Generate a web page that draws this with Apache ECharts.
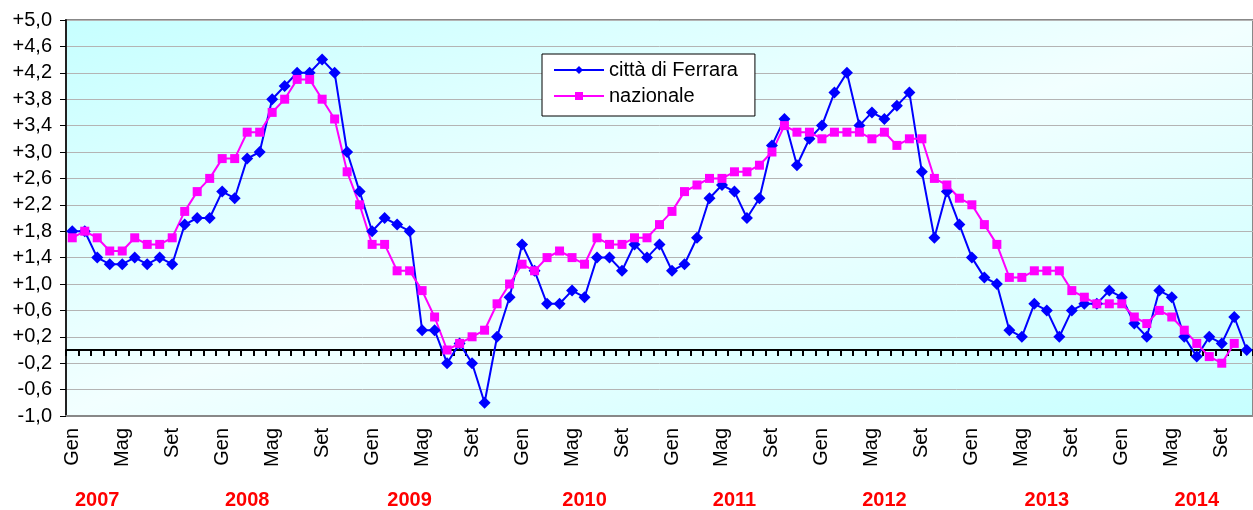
<!DOCTYPE html>
<html><head><meta charset="utf-8">
<script src="https://cdn.jsdelivr.net/npm/echarts@6/dist/echarts.min.js"></script>
<style>html,body{margin:0;padding:0;background:#fff}#c{width:1253px;height:510px}</style>
</head><body><div id="c"></div>
<script>
const monthNames = ['Gen','Feb','Mar','Apr','Mag','Giu','Lug','Ago','Set','Ott','Nov','Dic'];
const years = ['2007','2008','2009','2010','2011','2012','2013','2014'];
const monthCount = 95;
const categories = years.flatMap(y => monthNames.map(m => m + ' ' + y)).slice(0, monthCount);

const ferrara = [
  1.8,1.8,1.4,1.3,1.3,1.4,1.3,1.4,1.3,1.9,2.0,2.0,
  2.4,2.3,2.9,3.0,3.8,4.0,4.2,4.2,4.4,4.2,3.0,2.4,
  1.8,2.0,1.9,1.8,0.3,0.3,-0.2,0.1,-0.2,-0.8,0.2,0.8,
  1.6,1.2,0.7,0.7,0.9,0.8,1.4,1.4,1.2,1.6,1.4,1.6,
  1.2,1.3,1.7,2.3,2.5,2.4,2.0,2.3,3.1,3.5,2.8,3.2,
  3.4,3.9,4.2,3.4,3.6,3.5,3.7,3.9,2.7,1.7,2.4,1.9,
  1.4,1.1,1.0,0.3,0.2,0.7,0.6,0.2,0.6,0.7,0.7,0.9,
  0.8,0.4,0.2,0.9,0.8,0.2,-0.1,0.2,0.1,0.5,0.0
];
const nazionale = [
  1.7,1.8,1.7,1.5,1.5,1.7,1.6,1.6,1.7,2.1,2.4,2.6,
  2.9,2.9,3.3,3.3,3.6,3.8,4.1,4.1,3.8,3.5,2.7,2.2,
  1.6,1.6,1.2,1.2,0.9,0.5,0.0,0.1,0.2,0.3,0.7,1.0,
  1.3,1.2,1.4,1.5,1.4,1.3,1.7,1.6,1.6,1.7,1.7,1.9,
  2.1,2.4,2.5,2.6,2.6,2.7,2.7,2.8,3.0,3.4,3.3,3.3,
  3.2,3.3,3.3,3.3,3.2,3.3,3.1,3.2,3.2,2.6,2.5,2.3,
  2.2,1.9,1.6,1.1,1.1,1.2,1.2,1.2,0.9,0.8,0.7,0.7,
  0.7,0.5,0.4,0.6,0.5,0.3,0.1,-0.1,-0.2,0.1
];
// month (category index) under which each year label is written
const yearLabelIndex = [2, 14, 27, 41, 53, 65, 78, 90];

const font = '"Liberation Sans", Arial, sans-serif';
const fmtY = v => {
  const r = Math.round(v * 10) / 10;
  const s = Math.abs(r).toFixed(1).replace('.', ',');
  return r > 0 ? '+' + s : (r < 0 ? '-' + s : s);
};

const chart = echarts.init(document.getElementById('c'), null, {renderer: 'canvas'});
chart.setOption({
  animation: false,
  grid: {
    left: 66, top: 20, width: 1194, height: 396,
    show: true, borderColor: '#888', borderWidth: 2,
    backgroundColor: new echarts.graphic.LinearGradient(0.401, -0.401, 0.599, 1.401, [
      {offset: 0, color: '#c6ffff'},
      {offset: 0.5, color: '#f2ffff'},
      {offset: 1, color: '#c6ffff'}
    ])
  },
  legend: {
    orient: 'vertical', left: 542, top: 54,
    padding: [6, 17, 10, 11], itemGap: 6, itemWidth: 50, itemHeight: 10,
    backgroundColor: '#fff', borderColor: '#000', borderWidth: 1, borderRadius: 0,
    textStyle: {fontSize: 20, color: '#000', fontFamily: font}
  },
  xAxis: [
    {
      type: 'category', data: categories, position: 'bottom',
      axisLine: {onZero: false, lineStyle: {color: '#888', width: 2}},
      axisTick: {show: false},
      axisLabel: {interval: 3, rotate: 90, margin: 12, fontSize: 20, color: '#000', fontFamily: font,
        formatter: v => v.split(' ')[0]},
      splitLine: {show: false}
    },
    {
      type: 'category', data: categories, position: 'bottom',
      axisLine: {onZero: true, lineStyle: {color: '#000', width: 2}},
      axisTick: {show: true, interval: 0, length: 6, lineStyle: {color: '#000', width: 2}},
      axisLabel: {show: false},
      splitLine: {show: false}
    },
    {
      type: 'category', data: categories, position: 'bottom', offset: 66,
      axisLine: {show: false, onZero: false},
      axisTick: {show: false},
      axisLabel: {interval: (i) => yearLabelIndex.includes(i), margin: 8, fontSize: 20, fontWeight: 'bold',
        color: '#ff0000', fontFamily: font, formatter: v => v.split(' ')[1]},
      splitLine: {show: false}
    }
  ],
  yAxis: {
    type: 'value', min: -1, max: 5, interval: 0.4,
    axisLine: {show: true, lineStyle: {color: '#222', width: 2}},
    axisTick: {show: true, length: 6, lineStyle: {color: '#000'}},
    axisLabel: {margin: 14, fontSize: 20, color: '#000', fontFamily: font, formatter: fmtY},
    splitLine: {lineStyle: {color: '#b4b4b4', width: 1}}
  },
  series: [
    {
      name: 'città di Ferrara', type: 'line', data: ferrara,
      symbol: 'diamond', symbolSize: 12, showAllSymbol: true,
      lineStyle: {color: '#0000ff', width: 2}, itemStyle: {color: '#0000ff'}
    },
    {
      name: 'nazionale', type: 'line', data: nazionale,
      symbol: 'rect', symbolSize: 9, showAllSymbol: true,
      lineStyle: {color: '#ff00ff', width: 2}, itemStyle: {color: '#ff00ff'}
    }
  ]
});
</script>
</body></html>
